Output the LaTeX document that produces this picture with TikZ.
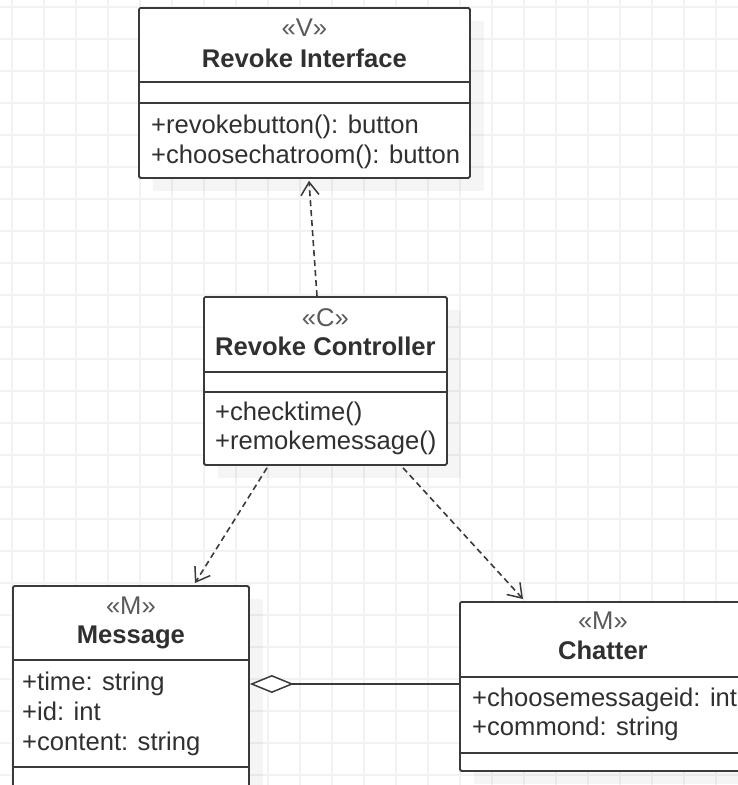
\documentclass[tikz,border=0pt]{standalone}
\usepackage{fontspec}
\setmainfont{Liberation Sans}
\usetikzlibrary{arrows.meta,calc,shadows}
\definecolor{gridc}{HTML}{F2F2F2}
\definecolor{edgec}{HTML}{3A3A3A}
\definecolor{txt}{HTML}{303030}
\definecolor{stc}{HTML}{5A5A5A}

\begin{document}
\begin{tikzpicture}[x=1pt,y=-1pt,
  umlbox/.style={draw=edgec, line width=1.8pt, rounded corners=1.5pt, fill=white,
    anchor=north west, inner sep=0pt,
    drop shadow={shadow xshift=14pt, shadow yshift=-13pt, fill=black, opacity=0.04}},
  divider/.style={draw=edgec, line width=1.8pt},
  txtbase/.style={inner sep=0pt, font=\fontsize{25.6}{29}\selectfont, text=txt},
  stereo/.style={txtbase, text=stc, anchor=base},
  title/.style={txtbase, font=\fontsize{25.6}{29}\selectfont\bfseries, anchor=base},
  member/.style={txtbase, anchor=base west},
  dep/.style={draw=edgec, line width=1.6pt, dash pattern=on 6pt off 4pt,
    -{Straight Barb[length=13pt,width=18pt,line width=1.5pt]}},
  aggr/.style={draw=edgec, line width=1.8pt,
    -{Diamond[open,fill=white,length=44pt,width=18pt,line width=1.5pt]}}
]
\useasboundingbox (0,0) rectangle (738,785);
\fill[white] (0,0) rectangle (738,785);

% background grid
\foreach \k in {0,...,23} \draw[gridc, line width=1.5pt] (12+32*\k,0) -- (12+32*\k,785);
\foreach \k in {0,...,24} \draw[gridc, line width=1.5pt] (0,7+32*\k) -- (738,7+32*\k);

% class boxes
\node[umlbox, minimum width=331pt, minimum height=170pt] (iface) at (138,7) {};
\node[umlbox, minimum width=243pt, minimum height=168pt] (ctrl) at (203,296) {};
\node[umlbox, minimum width=236pt, minimum height=215pt] (msg) at (12,585) {};
\node[umlbox, minimum width=286pt, minimum height=169pt] (chat) at (459,601) {};

% compartments
\draw[divider] ($(iface.north west)+(0,75)$) -- ($(iface.north east)+(0,75)$);
\draw[divider] ($(iface.north west)+(0,96)$) -- ($(iface.north east)+(0,96)$);
\draw[divider] ($(ctrl.north west)+(0,76)$) -- ($(ctrl.north east)+(0,76)$);
\draw[divider] ($(ctrl.north west)+(0,96)$) -- ($(ctrl.north east)+(0,96)$);
\draw[divider] ($(msg.north west)+(0,75)$) -- ($(msg.north east)+(0,75)$);
\draw[divider] ($(msg.north west)+(0,182)$) -- ($(msg.north east)+(0,182)$);
\draw[divider] ($(chat.north west)+(0,76)$) -- ($(chat.north east)+(0,76)$);
\draw[divider] ($(chat.north west)+(0,152)$) -- ($(chat.north east)+(0,152)$);

% Revoke Interface
\node[stereo] (ifaceS) at ($(iface.north)+(0,29)$) {«V»};
\node[title] (ifaceT) at ($(iface.north)+(0,60)$) {Revoke Interface};
\node[member] (ifaceM1) at ($(iface.north west)+(13,126)$) {+revokebutton(): button};
\node[member] (ifaceM2) at ($(iface.north west)+(13,156)$) {+choosechatroom(): button};

% Revoke Controller
\node[stereo] (ctrlS) at ($(ctrl.north)+(0,30)$) {«C»};
\node[title] (ctrlT) at ($(ctrl.north)+(0,59)$) {Revoke Controller};
\node[member] (ctrlM1) at ($(ctrl.north west)+(12,124)$) {+checktime()};
\node[member] (ctrlM2) at ($(ctrl.north west)+(12,153)$) {+remokemessage()};

% Message
\node[stereo] (msgS) at ($(msg.north)+(0,29)$) {«M»};
\node[title] (msgT) at ($(msg.north)+(0,58)$) {Message};
\node[member] (msgA1) at ($(msg.north west)+(10,105)$) {+time: string};
\node[member] (msgA2) at ($(msg.north west)+(10,135)$) {+id: int};
\node[member] (msgA3) at ($(msg.north west)+(10,165)$) {+content: string};

% Chatter
\node[stereo] (chatS) at ($(chat.north)+(0,28)$) {«M»};
\node[title] (chatT) at ($(chat.north)+(0,58)$) {Chatter};
\node[member] (chatA1) at ($(chat.north west)+(13,105)$) {+choosemessageid: int};
\node[member] (chatA2) at ($(chat.north west)+(13,134)$) {+commond: string};

% dependencies
\draw[dep] ($(ctrl.north west)+(114,0)$) -- ($(iface.south west)+(171,2)$);
\draw[dep] ($(ctrl.south west)+(64,2)$) -- ($(msg.north west)+(183,-2)$);
\draw[dep] ($(ctrl.south west)+(200,2)$) -- ($(chat.north west)+(64,-2)$);

% aggregation
\draw[aggr] ($(chat.north west)+(0,83)$) -- ($(msg.north east)+(0,99)$);
\end{tikzpicture}
\end{document}
